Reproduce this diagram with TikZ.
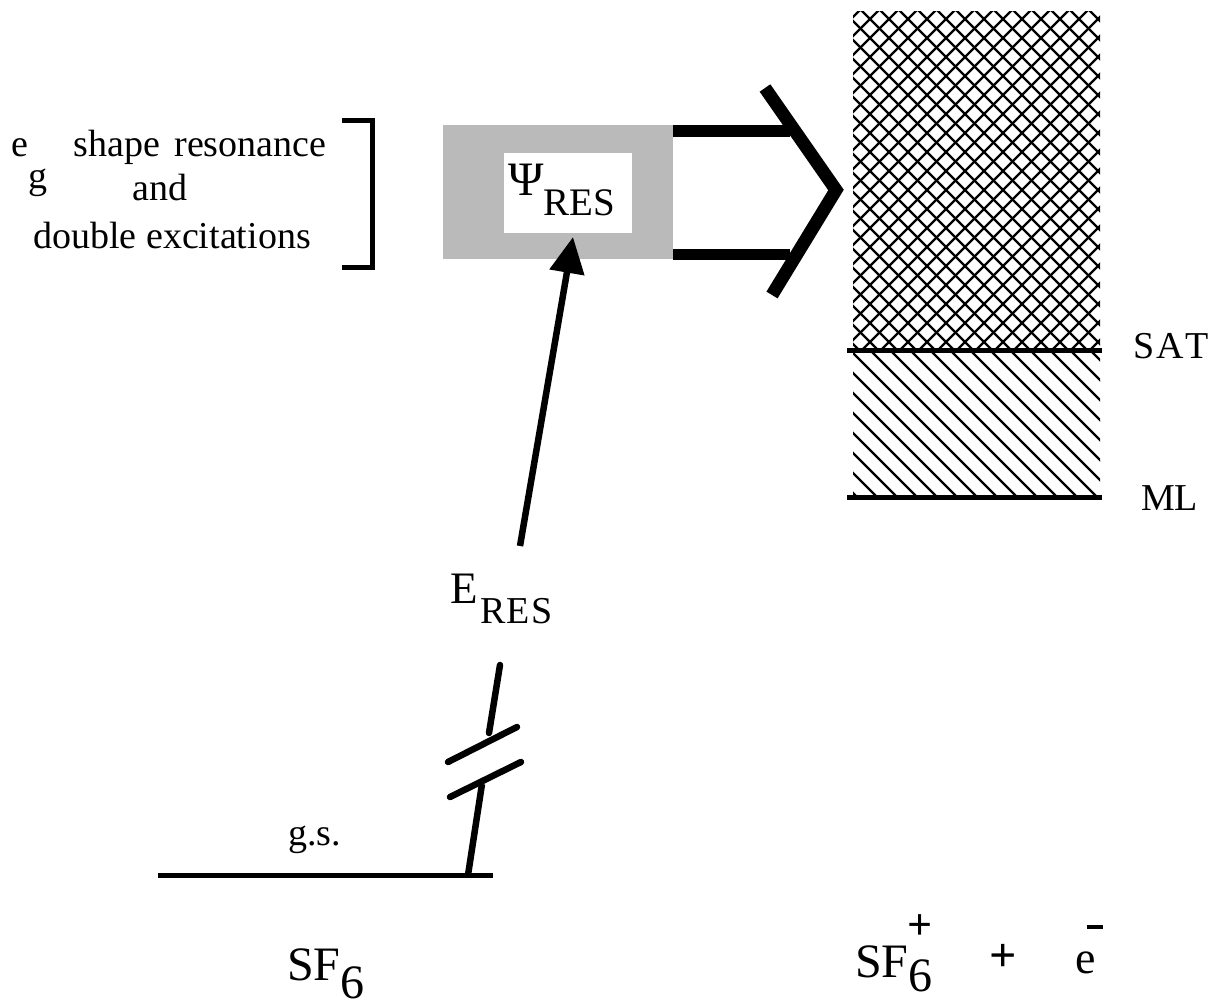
\documentclass[tikz,border=0pt]{standalone}
\usepackage{fontspec}
\setmainfont{Liberation Serif}
\usetikzlibrary{arrows.meta}
\newcommand{\fsz}[1]{\fontsize{#1}{#1}\selectfont}
\begin{document}
\begin{tikzpicture}[x=1pt,y=-1pt,
  txt/.style={inner sep=0pt, outer sep=0pt},
  level/.style={line width=5pt},
  stroke/.style={line width=6.5pt, line cap=round},
  hatch/.style={line width=2.4pt},
]
\useasboundingbox (0,0) rectangle (1223,1006);

% ---------- left label and bracket
\node[txt, anchor=base west] (lab1) at (12,157) {\fsz{38}e\raisebox{-32pt}[0pt][0pt]{g}\hspace{26pt}shape\hspace{14pt}resonance};
\node[txt, anchor=base] (lab2) at (160,200) {\fsz{38}and};
\node[txt, anchor=base] (lab3) at (172,248) {\fsz{38}double excitations};
\coordinate (br1) at (342,120.5);
\coordinate (br2) at (372.5,120.5);
\coordinate (br3) at (372.5,267.5);
\coordinate (br4) at (342,267.5);
\draw[line width=4.5pt, line join=miter] (br1) -- (br2) -- (br3) -- (br4);

% ---------- resonance box
\node[fill=black!27, draw=none, inner sep=0pt, minimum width=230pt, minimum height=134pt] (shade) at (558,192) {};
\node[fill=white, draw=none, inner sep=0pt, minimum width=128pt, minimum height=80pt] (psibox) at (568,193) {};
\node[txt, anchor=base west] (psi) at (508,195) {\fsz{48}Ψ\raisebox{-20pt}{\fsz{39}RES}};

% ---------- big open arrow
\coordinate (s1) at (790,131);
\coordinate (s2) at (790,254);
\draw[line width=12pt] (shade.east |- s1) -- (s1);
\draw[line width=11pt] (shade.east |- s2) -- (s2);
\coordinate (c1) at (765,88);
\coordinate (c2) at (836,190);
\coordinate (c3) at (772,295);
\draw[line width=13pt, line join=miter] (c1) -- (c2) -- (c3);

% ---------- continuum column
\begin{scope}
  \clip (853,12) rectangle (1100,350);
  \foreach \c in {300,319,...,1520} {
    \draw[hatch] (\c,0) -- ++(-600,600);
    \draw[hatch] (\c,0) -- ++(600,600);
  }
\end{scope}
\begin{scope}
  \clip (853,350) rectangle (1100,497);
  \foreach \c in {200,220,...,1100} {
    \draw[line width=2.2pt] (\c,0) -- ++(700,700);
  }
\end{scope}
\coordinate (satL) at (847,350);
\coordinate (satR) at (1102,350);
\coordinate (mlL) at (847,497);
\coordinate (mlR) at (1102,497);
\draw[level] (satL) -- (satR);
\draw[level] (mlL) -- (mlR);
\node[txt, anchor=base west] (sat) at (1133,358) {\fsz{38}S\kern2pt A\kern2pt T};
\node[txt, anchor=base west] (ml) at (1141,510) {\fsz{38}ML};

% ---------- excitation arrow
\coordinate (etail) at (520,546);
\coordinate (etip) at (573,237);
\draw[line width=6.5pt, -{Triangle[length=36pt,width=34pt]}] (etail) -- (etip);
\node[txt, anchor=base west] (eres) at (450,603) {\fsz{45}E\kern3pt\raisebox{-20pt}{\fsz{38}R\kern1pt E\kern1pt S}};

% ---------- broken line from ground state
\coordinate (b1) at (500,665);
\coordinate (b2) at (489,733);
\coordinate (b3) at (482,784);
\coordinate (b4) at (468,875);
\coordinate (k1) at (448,762);
\coordinate (k2) at (517,727);
\coordinate (k3) at (450,797);
\coordinate (k4) at (521,762);
\draw[stroke] (b1) -- (b2);
\draw[stroke] (k1) -- (k2);
\draw[stroke] (k3) -- (k4);
\draw[line width=6.5pt] (b3) -- (b4);

% ---------- ground level
\coordinate (gl) at (158,875.5);
\coordinate (gr) at (493,875.5);
\draw[level] (gl) -- (gr);
\node[txt, anchor=base west] (gs) at (288,845) {\fsz{38}g.s.};

% ---------- species labels
\node[txt, anchor=base west] (sf6) at (287,980) {\fsz{48}SF\raisebox{-18pt}{6}};
\node[txt, anchor=base west] (ion) at (855,977) {\fsz{48}SF\raisebox{-14pt}{6}};
\node[txt] (plusup) at (920,927) {\fsz{44}\bfseries +};
\node[txt] (plus) at (1003,958) {\fsz{48}\bfseries +};
\node[txt, anchor=base west] (el) at (1075,973) {\fsz{46}e};
\node[txt] (minus) at (1095,927) {\rule{16pt}{3.5pt}};
\end{tikzpicture}
\end{document}
